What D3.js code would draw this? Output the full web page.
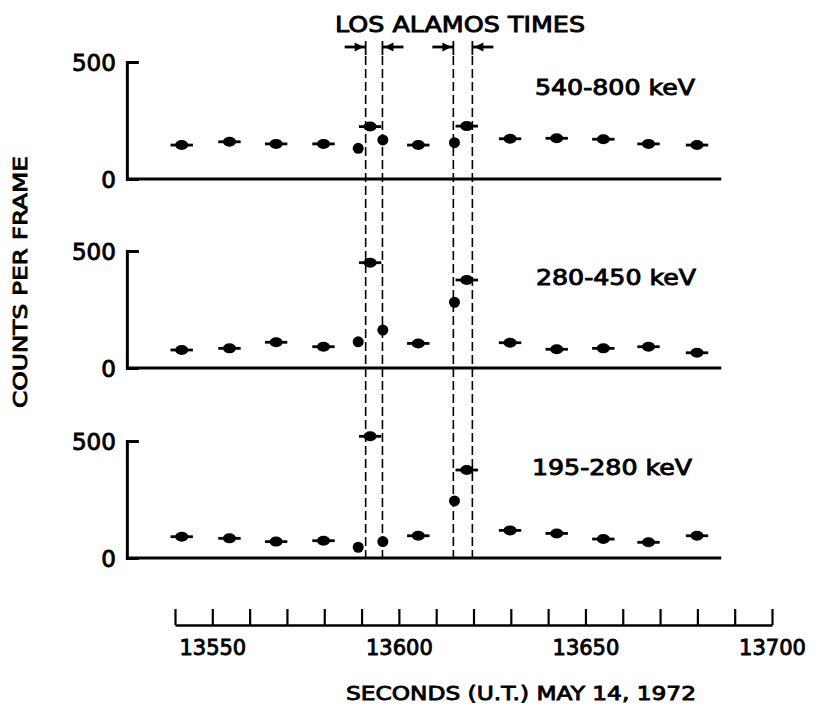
<!DOCTYPE html>
<html><head><meta charset="utf-8">
<script src="https://cdn.jsdelivr.net/npm/d3@7"></script>
<style>
body{margin:0;background:#fff}
svg{display:block}
text{font-family:"DejaVu Sans",sans-serif;fill:#000;stroke:#000;stroke-width:0.9px}
</style>
</head><body><svg id="c" width="815" height="706"></svg>
<script>
// ---- data ----
const frameTimes = [13541.8, 13554.6, 13567.1, 13579.8, 13592.3, 13605.2, 13618.2, 13629.8, 13642.3, 13654.8, 13666.9, 13679.9];
const frameHalfWidth = 3.0; // seconds
const dotTimes = [13589.1, 13595.7, 13614.9];
const losAlamosTimes = [13591.1, 13595.6, 13614.6, 13619.7];
const arrowDirections = ["right", "left", "right", "left"];
const bandLabels = ["540-800 keV", "280-450 keV", "195-280 keV"];
const frames540 = [145, 159, 150, 150, 224, 145, 226, 172, 174, 170, 150, 145];
const dots540 = [131, 167, 155];
const frames280 = [77, 84, 110, 91, 450, 105, 376, 108, 80, 84, 91, 65];
const dots280 = [112, 162, 281];
const frames195 = [91, 84, 70, 74, 520, 95, 376, 118, 105, 81, 67, 95];
const dots195 = [46, 70, 244];
const yTickValues = [0, 500];
const timeTicks = [13540,13550,13560,13570,13580,13590,13600,13610,13620,13630,13640,13650,13660,13670,13680,13690,13700];
const timeTickLabels = [13550, 13600, 13650, 13700];
const panelTimeExtent = [13527.1, 13686.4];

// ---- layout ----
const svg = d3.select("#c");
const x = d3.scaleLinear().domain([13540, 13700]).range([175, 772]);
const panels = [
  {label: bandLabels[0], frames: frames540, dots: dots540, zero: 179, top: 62, labelX: 615, labelY: 95},
  {label: bandLabels[1], frames: frames280, dots: dots280, zero: 368, top: 251, labelX: 616, labelY: 285},
  {label: bandLabels[2], frames: frames195, dots: dots195, zero: 558, top: 441, labelX: 612, labelY: 475}
];

// dashed Los Alamos lines
svg.append("g").selectAll("line").data(losAlamosTimes).join("line")
  .attr("x1", d => x(d)).attr("x2", d => x(d))
  .attr("y1", 56).attr("y2", panels[2].zero)
  .attr("stroke", "#000").attr("stroke-width", 1.6).attr("stroke-dasharray", "9,4");

// arrows at top
const arrowY = 47;
const ag = svg.append("g");
losAlamosTimes.forEach((t, i) => {
  const xv = x(t);
  const s = arrowDirections[i] === "right" ? -1 : 1;
  ag.append("line").attr("x1", xv).attr("x2", xv).attr("y1", 41).attr("y2", 55)
    .attr("stroke", "#000").attr("stroke-width", 1.8);
  ag.append("line").attr("x1", xv).attr("x2", xv + s * 21).attr("y1", arrowY).attr("y2", arrowY)
    .attr("stroke", "#000").attr("stroke-width", 2.8);
  const tip = xv + s * 2, base = xv + s * 11;
  ag.append("path").attr("d", `M${tip},${arrowY}L${base},${arrowY-4.5}L${base},${arrowY+4.5}Z`).attr("fill", "#000");
});

svg.append("text").attr("x", 460).attr("y", 32).attr("text-anchor", "middle")
  .attr("font-size", 22).attr("textLength", 250).attr("lengthAdjust", "spacingAndGlyphs")
  .text("LOS ALAMOS TIMES");

panels.forEach(p => {
  const y = d3.scaleLinear().domain([0, 500]).range([p.zero, p.top]);
  const g = svg.append("g");
  g.append("line").attr("x1", x(panelTimeExtent[0])).attr("x2", x(panelTimeExtent[1]))
    .attr("y1", y(0)).attr("y2", y(0)).attr("stroke", "#000").attr("stroke-width", 3);
  const ax = g.append("g").attr("transform", `translate(${x(panelTimeExtent[0])},0)`)
    .call(d3.axisLeft(y).tickValues(yTickValues).tickSize(0).tickSizeOuter(-12).tickPadding(11));
  ax.select(".domain").attr("stroke-width", 3).attr("fill", "none");
  ax.selectAll("text").attr("font-size", 23).attr("font-family", '"DejaVu Sans",sans-serif').attr("dy", "0.36em");
  g.selectAll(".fb").data(p.frames).join("line").attr("class", "fb")
    .attr("x1", (d, i) => x(frameTimes[i] - frameHalfWidth))
    .attr("x2", (d, i) => x(frameTimes[i] + frameHalfWidth))
    .attr("y1", d => y(d)).attr("y2", d => y(d))
    .attr("stroke", "#000").attr("stroke-width", 2.8);
  g.selectAll(".fm").data(p.frames).join("ellipse").attr("class", "fm")
    .attr("cx", (d, i) => x(frameTimes[i])).attr("cy", d => y(d))
    .attr("rx", 6.5).attr("ry", 5).attr("fill", "#000");
  g.selectAll(".dt").data(p.dots).join("circle").attr("class", "dt")
    .attr("cx", (d, i) => x(dotTimes[i])).attr("cy", d => y(d))
    .attr("r", 5.5).attr("fill", "#000");
  g.append("text").attr("x", p.labelX).attr("y", p.labelY).attr("text-anchor", "middle")
    .attr("font-size", 21).attr("textLength", 160).attr("lengthAdjust", "spacingAndGlyphs").text(p.label);
});

// bottom time axis
const tAx = svg.append("g").attr("transform", "translate(0,625)")
  .call(d3.axisBottom(x).tickValues(timeTicks).tickSize(-16).tickSizeOuter(0).tickPadding(15)
    .tickFormat(d => timeTickLabels.includes(d) ? String(d) : ""));
tAx.select(".domain").attr("stroke-width", 2.6);
tAx.selectAll(".tick line").attr("stroke-width", 2.2);
tAx.selectAll("text").attr("font-size", 21).attr("font-family", '"DejaVu Sans",sans-serif');

svg.append("text").attr("x", 521).attr("y", 700).attr("text-anchor", "middle")
  .attr("font-size", 20).attr("textLength", 350).attr("lengthAdjust", "spacingAndGlyphs")
  .text("SECONDS (U.T.)  MAY 14, 1972");

svg.append("text").attr("transform", "translate(27,282) rotate(-90)").attr("text-anchor", "middle")
  .attr("font-size", 20).attr("textLength", 252).attr("lengthAdjust", "spacingAndGlyphs")
  .text("COUNTS PER FRAME");
</script>
</body></html>
